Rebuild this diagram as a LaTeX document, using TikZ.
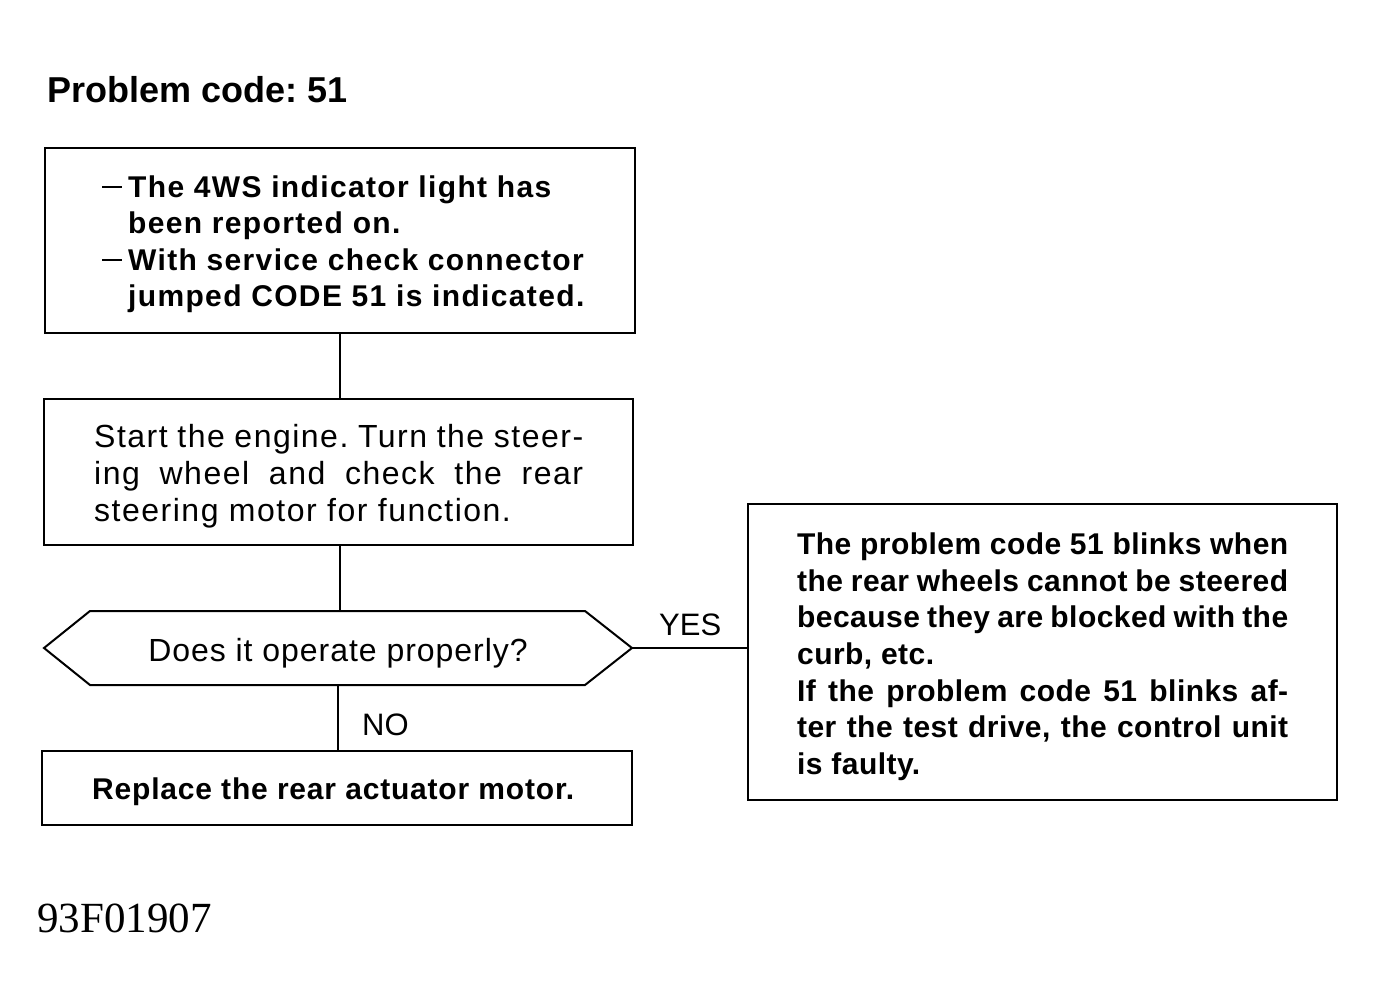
\documentclass[tikz,border=0pt]{standalone}
\usepackage{fontspec}
\setmainfont{Liberation Sans}
\frenchspacing
\newfontfamily\fTitle{Liberation Sans}
\newfontfamily\fBoxA[LetterSpace=4.5]{Liberation Sans}
\newfontfamily\fBoxB[LetterSpace=4.7]{Liberation Sans}
\newfontfamily\fBoxC[LetterSpace=1.5]{Liberation Sans}
\newfontfamily\fBoxD[LetterSpace=2.7]{Liberation Sans}
\newfontfamily\fHex[LetterSpace=3.0]{Liberation Sans}
\newfontfamily\fNum{Liberation Serif}
\newcommand{\jline}[2]{\makebox[#1][s]{#2}}
\begin{document}
\begin{tikzpicture}[x=1pt,y=-1pt,
  boxst/.style={draw, line width=2pt, rectangle, inner sep=0pt},
  ln/.style={anchor=base west, inner sep=0pt},
  conn/.style={line width=2pt},
  dashmark/.style={anchor=base west, inner sep=0pt},
  ftA/.style={font=\fBoxA\bfseries\fontsize{30}{36}\selectfont},
  ftB/.style={font=\fBoxB\fontsize{32}{37}\selectfont\frenchspacing},
  ftC/.style={font=\fBoxC\bfseries\fontsize{30}{36}\selectfont\frenchspacing},
  ftD/.style={font=\fBoxD\bfseries\fontsize{30}{36}\selectfont},
  ftH/.style={font=\fHex\fontsize{32}{37}\selectfont},
  ftL/.style={font=\fTitle\fontsize{31}{36}\selectfont}]
\useasboundingbox (0,0) rectangle (1377,1006);
\fill[white] (0,0) rectangle (1377,1006);

% title
\node[ln, font=\fTitle\bfseries\fontsize{36}{40}\selectfont] (title) at (47,103) {Problem code: 51};

% boxes
\node[boxst, minimum width=590pt, minimum height=185pt] (b1) at (340,240.5) {};
\node[boxst, minimum width=589pt, minimum height=146pt] (b2) at (338.5,472) {};
\node[boxst, minimum width=589pt, minimum height=296pt] (b3) at (1042.5,652) {};
\node[boxst, minimum width=590pt, minimum height=74pt] (b4) at (337,788) {};

% hexagon
\coordinate (hL) at (44,648);
\coordinate (hTL) at (90,611);
\coordinate (hTR) at (585,611);
\coordinate (hR) at (632,648);
\coordinate (hBR) at (585,685);
\coordinate (hBL) at (90,685);
\draw[conn, line join=miter] (hL) -- (hTL) -- (hTR) -- (hR) -- (hBR) -- (hBL) -- cycle;

% box 1 text
\node[dashmark] (d1) at (102,197) {\rule[9pt]{20pt}{2.2pt}};
\node[ln, ftA] (t1a) at (128,197) {The 4WS indicator light has};
\node[ln, ftA] (t1b) at (128,233.5) {been reported on.};
\node[dashmark] (d2) at (102,270) {\rule[9pt]{20pt}{2.2pt}};
\node[ln, ftA] (t1c) at (128,270) {With service check connector};
\node[ln, ftA] (t1d) at (128,306.5) {jumped CODE 51 is indicated.};

% box 2 text
\node[ln, ftB] (t2a) at (94,447) {\jline{489pt}{Start the engine. Turn the steer-}};
\node[ln, ftB] (t2b) at (94,484) {\jline{489pt}{ing wheel and check the rear}};
\node[ln, ftB] (t2c) at (94,521) {steering motor for function.};

% question
\node[anchor=base, inner sep=0pt, ftH] (q) at (338,661) {Does it operate properly?};

% box 3 text
\node[ln, ftC] (t3a) at (797,554) {\jline{491pt}{The problem code 51 blinks when}};
\node[ln, ftC] (t3b) at (797,591) {\jline{491pt}{the rear wheels cannot be steered}};
\node[ln, ftC] (t3c) at (797,627.5) {\jline{491pt}{because they are blocked with the}};
\node[ln, ftC] (t3d) at (797,664) {curb, etc.};
\node[ln, ftC] (t3e) at (797,701) {\jline{491pt}{If the problem code 51 blinks af-}};
\node[ln, ftC] (t3f) at (797,737.5) {\jline{491pt}{ter the test drive, the control unit}};
\node[ln, ftC] (t3g) at (797,774) {is faulty.};

% box 4 text
\node[ln, ftD] (t4) at (92,799) {Replace the rear actuator motor.};

% connectors
\draw[conn] (b1.south) -- (b1.south |- b2.north);
\draw[conn] (b1.south |- b2.south) -- (b1.south |- hTL);
\coordinate (hB) at (338,685);
\draw[conn] (hB) -- (hB |- b4.north);
\draw[conn] (hR) -- (hR -| b3.west);

% labels
\node[ln, ftL] (yes) at (659,635) {YES};
\node[ln, ftL] (no) at (362,735) {NO};

% figure number
\node[ln, font=\fNum\fontsize{43}{46}\selectfont] (fig) at (37,932) {93F01907};
\end{tikzpicture}
\end{document}
